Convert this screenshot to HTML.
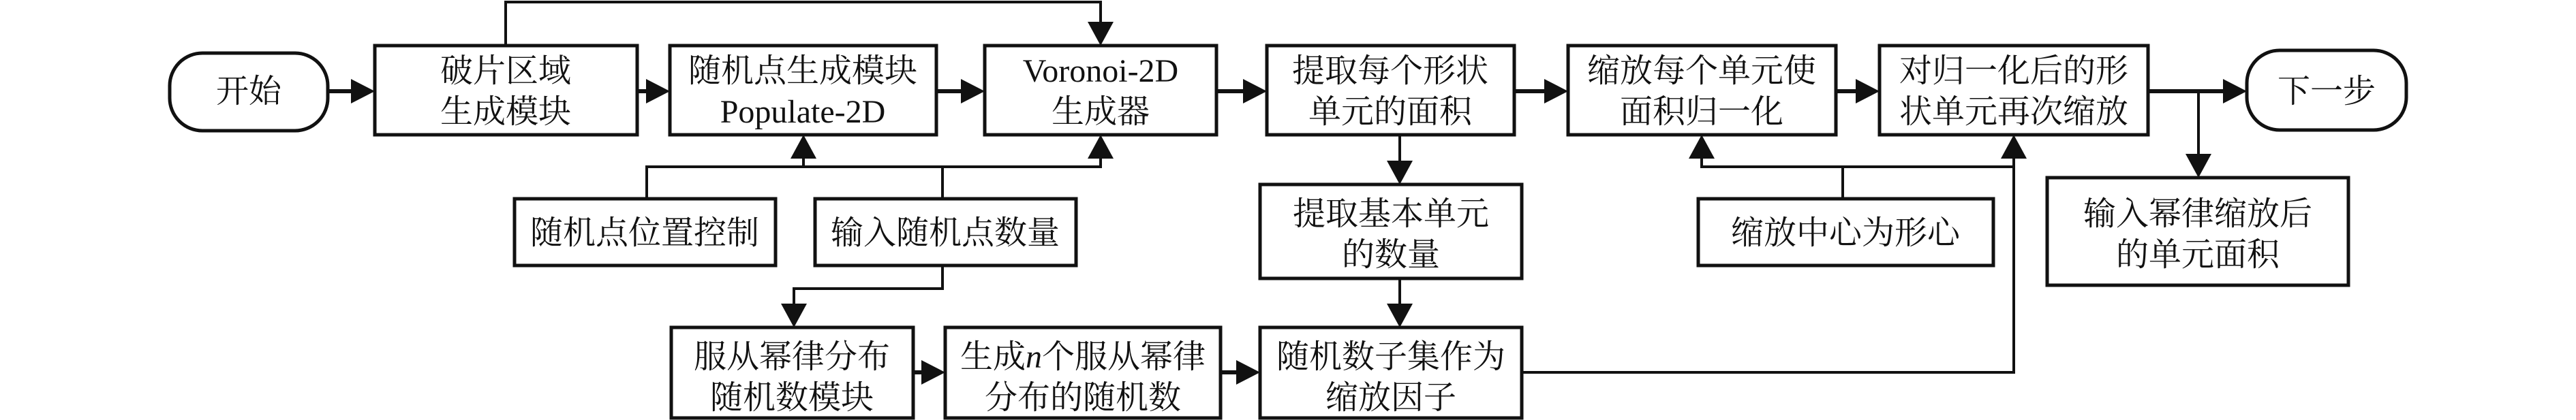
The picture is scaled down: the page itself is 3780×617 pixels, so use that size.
<!DOCTYPE html>
<html><head><meta charset="utf-8"><style>
html,body{margin:0;padding:0;background:#fff;}
svg{display:block;}
text{font-family:"Liberation Serif","Noto Serif CJK SC",serif;font-size:48px;fill:#111;text-anchor:middle;}
</style></head><body>
<svg width="3780" height="617" viewBox="0 0 3780 617" xmlns="http://www.w3.org/2000/svg">
<g fill="#fff" stroke="#111" stroke-width="5">
<rect x="249" y="78" width="232" height="114" rx="48"/>
<rect x="550" y="67" width="385" height="131"/>
<rect x="983" y="67" width="391" height="131"/>
<rect x="1445" y="67" width="340" height="131"/>
<rect x="1859" y="67" width="363" height="131"/>
<rect x="2301" y="67" width="393" height="131"/>
<rect x="2758" y="67" width="394" height="131"/>
<rect x="3297" y="74" width="234" height="117" rx="48"/>
<rect x="755" y="292" width="383" height="98"/>
<rect x="1196" y="292" width="383" height="98"/>
<rect x="1849" y="271" width="384" height="138"/>
<rect x="2492" y="292" width="433" height="98"/>
<rect x="3004" y="261" width="442" height="158"/>
<rect x="985" y="481" width="355" height="133"/>
<rect x="1387" y="481" width="404" height="133"/>
<rect x="1849" y="481" width="384" height="133"/>
</g>
<g fill="none" stroke="#111" stroke-width="4">
<polyline points="742,67 742,3 1615,3 1615,40"/>
<polyline points="949,292 949,245 1615,245 1615,226"/>
<line x1="1179" y1="245" x2="1179" y2="226"/>
<line x1="1383" y1="245" x2="1383" y2="292"/>
<polyline points="1383,390 1383,424 1165,424 1165,450"/>
<line x1="2054" y1="198" x2="2054" y2="240"/>
<line x1="2054" y1="409" x2="2054" y2="450"/>
<polyline points="2233,547 2955,547 2955,226"/>
<polyline points="2497,226 2497,245 2955,245"/>
<line x1="2704" y1="245" x2="2704" y2="292"/>
<line x1="3226" y1="134" x2="3226" y2="230"/>
</g>
<g fill="none" stroke="#111" stroke-width="6">
<line x1="481" y1="134" x2="520" y2="134"/>
<line x1="935" y1="134" x2="950" y2="134"/>
<line x1="1374" y1="134" x2="1412" y2="134"/>
<line x1="1785" y1="134" x2="1826" y2="134"/>
<line x1="2222" y1="134" x2="2268" y2="134"/>
<line x1="2694" y1="134" x2="2725" y2="134"/>
<line x1="3152" y1="134" x2="3264" y2="134"/>
<line x1="1340" y1="547" x2="1354" y2="547"/>
<line x1="1791" y1="547" x2="1816" y2="547"/>
</g>
<g fill="#111">
<polygon points="515,116 550,134 515,152"/>
<polygon points="948,116 983,134 948,152"/>
<polygon points="1410,116 1445,134 1410,152"/>
<polygon points="1824,116 1859,134 1824,152"/>
<polygon points="2266,116 2301,134 2266,152"/>
<polygon points="2723,116 2758,134 2723,152"/>
<polygon points="3262,116 3297,134 3262,152"/>
<polygon points="1352,529 1387,547 1352,565"/>
<polygon points="1814,529 1849,547 1814,565"/>
<polygon points="1596,32 1634,32 1615,67"/>
<polygon points="1160,233 1198,233 1179,198"/>
<polygon points="1596,233 1634,233 1615,198"/>
<polygon points="1146,446 1184,446 1165,481"/>
<polygon points="2035,236 2073,236 2054,271"/>
<polygon points="2035,446 2073,446 2054,481"/>
<polygon points="2478,233 2516,233 2497,198"/>
<polygon points="2936,233 2974,233 2955,198"/>
<polygon points="3207,226 3245,226 3226,261"/>
</g>
<text x="365" y="150">开始</text>
<text x="742" y="120">破片区域</text>
<text x="742" y="180">生成模块</text>
<text x="1178" y="120">随机点生成模块</text>
<text x="1178" y="180">Populate-2D</text>
<text x="1615" y="120">Voronoi-2D</text>
<text x="1615" y="180">生成器</text>
<text x="2040" y="120">提取每个形状</text>
<text x="2040" y="180">单元的面积</text>
<text x="2497" y="120">缩放每个单元使</text>
<text x="2497" y="180">面积归一化</text>
<text x="2955" y="120">对归一化后的形</text>
<text x="2955" y="180">状单元再次缩放</text>
<text x="3414" y="150">下一步</text>
<text x="946" y="358">随机点位置控制</text>
<text x="1387" y="358">输入随机点数量</text>
<text x="2041" y="330">提取基本单元</text>
<text x="2041" y="390">的数量</text>
<text x="2708" y="358">缩放中心为形心</text>
<text x="3225" y="330">输入幂律缩放后</text>
<text x="3225" y="390">的单元面积</text>
<text x="1162" y="540">服从幂律分布</text>
<text x="1162" y="600">随机数模块</text>
<text x="1589" y="540">生成<tspan font-style="italic">n</tspan>个服从幂律</text>
<text x="1589" y="600">分布的随机数</text>
<text x="2041" y="540">随机数子集作为</text>
<text x="2041" y="600">缩放因子</text>
</svg>
</body></html>
